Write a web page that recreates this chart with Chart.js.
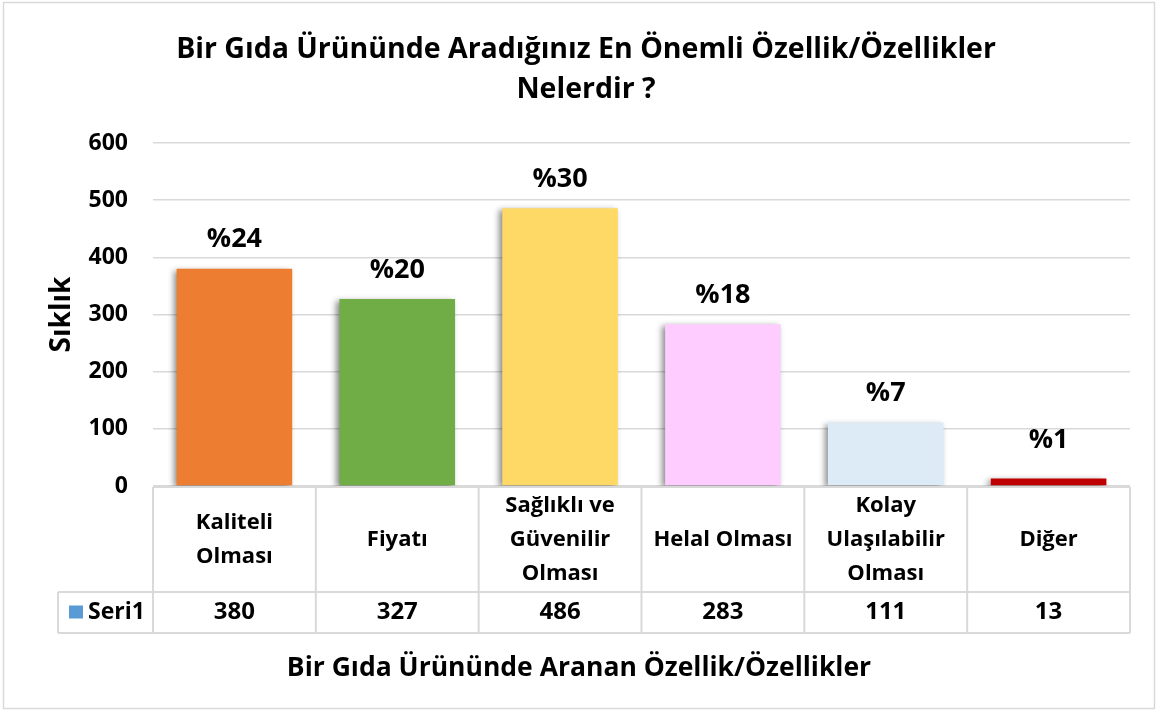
<!DOCTYPE html>
<html>
<head>
<meta charset="utf-8">
<script src="https://cdn.jsdelivr.net/npm/chart.js@4/dist/chart.umd.min.js"></script>
<style>
  html, body { margin: 0; padding: 0; background: #fff; }
  canvas { display: block; }
</style>
</head>
<body>
<canvas id="bar" width="1158" height="711"></canvas>
<script>
const categories = [
  ['Kaliteli', 'Olması'],
  ['Fiyatı'],
  ['Sağlıklı ve', 'Güvenilir', 'Olması'],
  ['Helal Olması'],
  ['Kolay', 'Ulaşılabilir', 'Olması'],
  ['Diğer']
]
const seriesName = 'Seri1'
const counts = [380, 327, 486, 283, 111, 13]
const barColors = ['#ED7D31', '#70AD47', '#FFD966', '#FFCCFF', '#DDEBF7', '#C00000']
const yTicks = [0, 100, 200, 300, 400, 500, 600]

const FONT = '"Open Sans", Lato, sans-serif'
const total = counts.reduce((a, b) => a + b, 0)
const percents = counts.map(v => '%' + Math.round(v / total * 100))

// shadow under the bars, like the office chart
const barShadow = {
  id: 'barShadow',
  beforeDatasetsDraw(chart) {
    const ctx = chart.ctx
    ctx.save()
    ctx.shadowColor = 'rgba(0,0,0,0.45)'
    ctx.shadowBlur = 6
    ctx.shadowOffsetX = -3
    ctx.shadowOffsetY = 2
  },
  afterDatasetsDraw(chart) {
    chart.ctx.restore()
  }
}

// percent labels, data table, x title and frame
const tablePlugin = {
  id: 'tablePlugin',
  afterDraw(chart) {
    const ctx = chart.ctx
    const x = chart.scales.x
    const y = chart.scales.y
    const area = chart.chartArea
    const meta = chart.getDatasetMeta(0)

    ctx.save()
    ctx.fillStyle = '#000'
    ctx.textAlign = 'center'
    ctx.textBaseline = 'middle'
    ctx.font = 'bold 27px ' + FONT
    meta.data.forEach((bar, i) => {
      const ly = Math.min(bar.y - 29, y.getPixelForValue(80))
      ctx.fillText(percents[i], bar.x, ly)
    })

    // table grid
    const step = (area.right - area.left) / categories.length
    const top = area.bottom + 1
    const rowMid = top + 105
    const bottom = top + 146
    const legendLeft = 58
    ctx.strokeStyle = '#d9d9d9'
    ctx.lineWidth = 2
    ctx.beginPath()
    ctx.moveTo(area.left, top); ctx.lineTo(area.right, top)
    ctx.moveTo(legendLeft, rowMid); ctx.lineTo(area.right, rowMid)
    ctx.moveTo(legendLeft, bottom); ctx.lineTo(area.right, bottom)
    for (let i = 0; i <= categories.length; i++) {
      const lx = area.left + i * step
      ctx.moveTo(lx, top); ctx.lineTo(lx, bottom)
    }
    ctx.moveTo(legendLeft, rowMid); ctx.lineTo(legendLeft, bottom)
    ctx.stroke()

    // category names
    ctx.font = 'bold 22px ' + FONT
    const cellMid = (top + rowMid) / 2
    categories.forEach((lines, i) => {
      const cx = x.getPixelForValue(i)
      const lh = 34
      const startY = cellMid - (lines.length - 1) * lh / 2
      lines.forEach((t, j) => ctx.fillText(t, cx, startY + j * lh))
    })

    // values row
    ctx.font = 'bold 24px ' + FONT
    const valMid = (rowMid + bottom) / 2
    counts.forEach((v, i) => ctx.fillText(String(v), x.getPixelForValue(i), valMid))

    // legend key
    ctx.fillStyle = '#5B9BD5'
    ctx.fillRect(69, valMid - 7, 14, 13)
    ctx.fillStyle = '#000'
    ctx.textAlign = 'left'
    ctx.font = 'bold 23px ' + FONT
    ctx.fillText(seriesName, 88, valMid)

    // x title
    ctx.textAlign = 'center'
    ctx.font = 'bold 26.5px ' + FONT
    ctx.fillText('Bir Gıda Ürününde Aranan Özellik/Özellikler', chart.width / 2, 668)

    // frame
    ctx.strokeStyle = '#d9d9d9'
    ctx.lineWidth = 1.5
    ctx.strokeRect(3.5, 2.5, chart.width - 7, chart.height - 5)
    ctx.restore()
  }
}

new Chart(document.getElementById('bar'), {
  type: 'bar',
  data: {
    labels: categories,
    datasets: [
      {
        label: seriesName,
        data: counts,
        backgroundColor: barColors,
        borderWidth: 0,
        categoryPercentage: 1,
        barPercentage: 0.71,
      },
    ],
  },
  options: {
    responsive: false,
    animation: false,
    devicePixelRatio: 1,
    layout: { padding: { left: 42, right: 28, top: 0, bottom: 225 } },
    plugins: {
      legend: { display: false },
      tooltip: { enabled: false },
      title: {
        display: true,
        text: ['Bir Gıda Ürününde Aradığınız En Önemli Özellik/Özellikler', 'Nelerdir ?'],
        color: '#000',
        font: { family: FONT, size: 28.5, weight: 'bold', lineHeight: 40 / 28.5 },
        padding: { top: 30, bottom: 33 },
      },
    },
    scales: {
      x: {
        display: false,
      },
      y: {
        min: 0,
        max: 600,
        afterBuildTicks(scale) {
          scale.ticks = yTicks.map(v => ({ value: v }))
        },
        afterFit(scale) {
          scale.width = 111
        },
        border: { display: false },
        grid: { color: '#d9d9d9', lineWidth: 1.5, drawTicks: false },
        ticks: {
          color: '#000',
          padding: 25,
          font: { family: FONT, size: 23, weight: 'bold' },
        },
        title: {
          display: true,
          text: 'Sıklık',
          color: '#000',
          font: { family: FONT, size: 28, weight: 'bold' },
          padding: { top: 3, bottom: 0 },
        },
      },
    },
  },
  plugins: [barShadow, tablePlugin],
})
</script>
</body>
</html>
